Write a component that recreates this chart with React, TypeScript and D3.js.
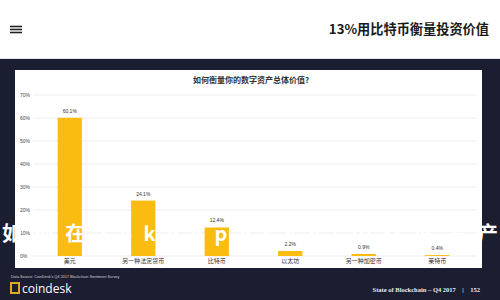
import React from "react";
import * as d3 from "d3";

const categories = ["美元", "另一种法定货币", "比特币", "以太坊", "另一种加密币", "莱特币"];
const values = [60.1, 24.1, 12.4, 2.2, 0.9, 0.4];
const valueLabels = ["60.1%", "24.1%", "12.4%", "2.2%", "0.9%", "0.4%"];
const yTicks = [0, 10, 20, 30, 40, 50, 60, 70];

const W = 500;
const H = 300;

export default function App() {
  const x = d3.scaleBand<string>().domain(categories).range([33, 474]).paddingInner(0.67).paddingOuter(0.335);
  const y = d3.scaleLinear().domain([0, 70]).range([256, 95]);
  const cjk = "'Noto Sans CJK SC', 'Noto Sans', sans-serif";
  return (
    <div style={{ position: "fixed", left: 0, top: 0, width: W, height: H }}>
      <svg width={W} height={H} viewBox={`0 0 ${W} ${H}`} style={{ display: "block" }}>
        <rect x={0} y={0} width={W} height={H} fill="#1b1e31" />
        {/* header */}
        <rect x={0} y={0} width={W} height={59} fill="#ffffff" />
        <line x1={0} x2={W} y1={58.5} y2={58.5} stroke="#e6e6ea" />
        {[26.5, 29.5, 32.5].map((yy) => (
          <line key={yy} x1={10} x2={22} y1={yy} y2={yy} stroke="#222" strokeWidth={1.6} />
        ))}
        <text x={489} y={34} textAnchor="end" fontFamily={cjk} fontWeight={700} fontSize={13.2} fill="#1a1a1a">
          13%用比特币衡量投资价值
        </text>
        {/* chart panel */}
        <rect x={15} y={70} width={467} height={198} fill="#ffffff" />
        <text x={251} y={83} textAnchor="middle" fontFamily={cjk} fontWeight={700} fontSize={8} fill="#333">
          如何衡量你的数字资产总体价值?
        </text>
        {yTicks.map((t) => (
          <g key={t}>
            <line x1={33} x2={477} y1={y(t)} y2={y(t)} stroke="#e9e9e9" strokeWidth={0.8} />
            <text x={20} y={y(t) + 1.8} fontFamily="'Liberation Sans', Arial, sans-serif" fontSize={5} fill="#444">
              {t}%
            </text>
          </g>
        ))}
        {categories.map((c, i) => (
          <g key={c}>
            <rect x={x(c)} y={y(values[i])} width={x.bandwidth()} height={y(0) - y(values[i])} fill="#fbbc11" />
            <text
              x={(x(c) as number) + x.bandwidth() / 2}
              y={y(values[i]) - 5}
              textAnchor="middle"
              fontFamily="'Liberation Sans', Arial, sans-serif"
              fontSize={5}
              fill="#333"
            >
              {valueLabels[i]}
            </text>
          </g>
        ))}
        {/* overlay title (white, mostly blends into the white panel) */}
        <text
          x={2}
          y={241}
          textLength={496}
          lengthAdjust="spacing"
          fontFamily={cjk}
          fontWeight={700}
          fontSize={20}
          fill="#ffffff"
        >
          如何在Tokenpocket中存储资产
        </text>
        {categories.map((c) => (
          <text
            key={"l" + c}
            x={(x(c) as number) + x.bandwidth() / 2}
            y={263}
            textAnchor="middle"
            fontFamily={cjk}
            fontSize={6}
            fill="#333"
          >
            {c}
          </text>
        ))}
        {/* footer */}
        <text x={11} y={278} fontFamily="'Liberation Sans', Arial, sans-serif" fontSize={3.8} fill="#d0d0d8">
          Data Source: CoinDesk's Q4 2017 Blockchain Sentiment Survey
        </text>
        <rect x={11} y={283} width={8} height={10} fill="none" stroke="#e0a81e" strokeWidth={2} />
        <text x={22} y={293} fontFamily="'Open Sans', 'Noto Sans', sans-serif" fontSize={12} fill="#ffffff">
          coindesk
        </text>
        <text
          x={480}
          y={292}
          textAnchor="end"
          fontFamily="'Liberation Serif', 'DejaVu Serif', serif"
          fontWeight={700}
          fontSize={6.5}
          fill="#e8e8ee"
          xmlSpace="preserve"
        >
          {"State of Blockchain – Q4 2017    |    152"}
        </text>
      </svg>
    </div>
  );
}
